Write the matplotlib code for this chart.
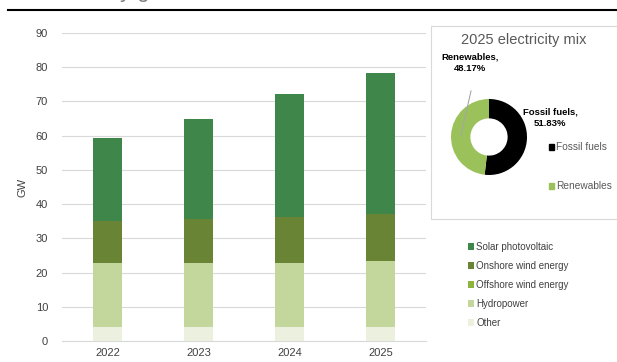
import matplotlib
matplotlib.use('Agg')
import matplotlib.pyplot as plt
from matplotlib.patches import Rectangle
import numpy as np

plt.rcParams['font.family'] = ['Liberation Sans', 'DejaVu Sans']

# Installed capacity by source (GW)
years = ['2022', '2023', '2024', '2025']
other = [4.1, 4.1, 4.1, 4.1]
hydropower = [18.7, 18.7, 18.7, 19.3]
offshore_wind = [0.0, 0.0, 0.0, 0.0]
onshore_wind = [12.3, 12.9, 13.5, 13.7]
solar_pv = [24.3, 29.2, 35.9, 41.3]

# 2025 generation share (%)
mix_labels = ['Fossil fuels', 'Renewables']
mix_shares = [51.83, 48.17]

W, H = 617, 362
fig = plt.figure(figsize=(W / 100, H / 100), dpi=100)


def px(x0, y0, x1, y1):
    # pixel box (top-left origin) -> figure fraction rect
    return [x0 / W, 1 - y1 / H, (x1 - x0) / W, (y1 - y0) / H]


# header rule and clipped heading above it
fig.add_artist(plt.Line2D([8 / W, 1], [1 - 10 / H, 1 - 10 / H], color='black', lw=1.5))
fig.text(120 / W, 1 + 8 / H, 'y g', fontsize=16, color='#7f7f7f', va='center', ha='left')

ax = fig.add_axes(px(62, 33, 426, 341))
x = np.arange(len(years))
w = 0.32
series = [
    ('Other', other, '#EBF0DF'),
    ('Hydropower', hydropower, '#C3D69B'),
    ('Offshore wind energy', offshore_wind, '#8CB43E'),
    ('Onshore wind energy', onshore_wind, '#6A8435'),
    ('Solar photovoltaic', solar_pv, '#3F864A'),
]
bottom = np.zeros(len(years))
handles = {}
for name, vals, col in series:
    b = ax.bar(x, vals, w, bottom=bottom, color=col, edgecolor='none', zorder=3)
    handles[name] = b
    bottom += np.array(vals)

ax.set_ylim(0, 90)
ax.set_xlim(-0.5, 3.5)
ax.set_yticks(range(0, 91, 10))
ax.set_xticks(x)
ax.set_xticklabels(years)
ax.yaxis.grid(True, color='#D9D9D9', lw=0.8, zorder=0)
for s in ['top', 'right', 'left']:
    ax.spines[s].set_visible(False)
ax.spines['bottom'].set_color('#D9D9D9')
ax.tick_params(length=0, labelsize=8, colors='#404040')
ax.tick_params(axis='y', pad=10)
ax.tick_params(axis='x', pad=5)
ax.set_ylabel('GW', fontsize=8, color='#404040', labelpad=6)

order = ['Solar photovoltaic', 'Onshore wind energy', 'Offshore wind energy', 'Hydropower', 'Other']
fig.legend([handles[n] for n in order], order, loc='upper left',
           bbox_to_anchor=(459 / W, 1 - 233 / H), frameon=False, fontsize=7,
           handlelength=0.6, handleheight=0.7, handletextpad=0.3,
           labelspacing=0.93, labelcolor='#404040')

# donut panel
fig.add_artist(Rectangle((431 / W, 1 - 219 / H), 200 / W, 193 / H,
                         transform=fig.transFigure, fill=False,
                         edgecolor='#D9D9D9', lw=0.8))
fig.text(524 / W, 1 - 40 / H, '2025 electricity mix', fontsize=10.5,
         color='#595959', ha='center', va='center')

pax = fig.add_axes(px(451, 99, 527, 175))
pax.pie(mix_shares, colors=['black', '#9BC25A'], startangle=90, counterclock=False,
        radius=1, wedgeprops=dict(width=0.51, edgecolor='none'))
pax.set_xlim(-1, 1)
pax.set_ylim(-1, 1)
pax.set_aspect('equal')

fig.text(470 / W, 1 - 63 / H, 'Renewables,\n%.2f%%' % mix_shares[1], fontsize=6.8,
         fontweight='bold', ha='center', va='center', color='black', linespacing=1.4)
fig.text(550 / W, 1 - 118 / H, 'Fossil fuels,\n%.2f%%' % mix_shares[0], fontsize=6.8,
         fontweight='bold', ha='center', va='center', color='black', linespacing=1.4)
fig.add_artist(plt.Line2D([471 / W, 461 / W], [1 - 91 / H, 1 - 135 / H],
                          color='#A6A6A6', lw=0.8))

for lab, col, yy in [('Fossil fuels', 'black', 147), ('Renewables', '#9BC25A', 186)]:
    fig.add_artist(Rectangle((549 / W, 1 - (yy + 3) / H), 5 / W, 6 / H,
                             transform=fig.transFigure, color=col))
    fig.text(556 / W, 1 - yy / H, lab, fontsize=7.3, color='#595959', va='center')

fig.savefig('out.png', dpi=100)
